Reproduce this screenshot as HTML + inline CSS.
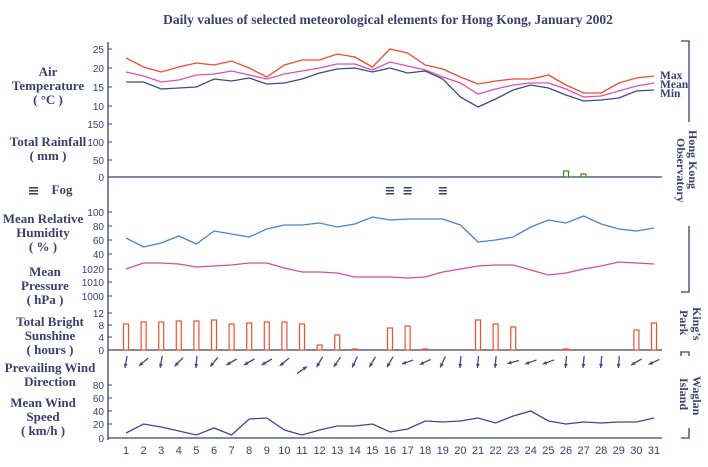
<!DOCTYPE html>
<html><head><meta charset="utf-8"><style>
html,body{margin:0;padding:0;background:#fff;}
svg{display:block;}
.l{font-family:"Liberation Serif",serif;font-weight:bold;font-size:13px;fill:#3a4070;text-anchor:middle;}
.t{font-family:"Liberation Sans",sans-serif;font-size:10px;fill:#3a4070;text-anchor:end;}
.d{font-family:"Liberation Sans",sans-serif;font-size:11px;fill:#3a4070;text-anchor:middle;}
.r{font-family:"Liberation Serif",serif;font-weight:bold;font-size:12px;fill:#3a4070;}
</style></head><body>
<svg id="s" width="708" height="467" viewBox="0 0 708 467" xmlns="http://www.w3.org/2000/svg">
<text x="388" y="24" class="l" style="font-size:13.5px">Daily values of selected meteorological elements for Hong Kong, January 2002</text>
<text class="l" x="48" y="76">Air</text>
<text class="l" x="48" y="90">Temperature</text>
<text class="l" x="48" y="104">( °C )</text>
<text class="l" x="48" y="146">Total Rainfall</text>
<text class="l" x="48" y="160">( mm )</text>
<g fill="#3a4070"><rect x="29" y="187" width="9" height="1.6"/><rect x="29" y="190" width="9" height="1.6"/><rect x="29" y="193" width="9" height="1.6"/></g>
<text class="l" x="62" y="194">Fog</text>
<text class="l" x="43" y="223">Mean Relative</text>
<text class="l" x="43" y="237">Humidity</text>
<text class="l" x="43" y="251">( % )</text>
<text class="l" x="45" y="276">Mean</text>
<text class="l" x="45" y="290">Pressure</text>
<text class="l" x="45" y="304">( hPa )</text>
<text class="l" x="50" y="326">Total Bright</text>
<text class="l" x="50" y="340">Sunshine</text>
<text class="l" x="50" y="354">( hours )</text>
<text class="l" x="50" y="372">Prevailing Wind</text>
<text class="l" x="50" y="386">Direction</text>
<text class="l" x="43" y="407">Mean Wind</text>
<text class="l" x="43" y="421">Speed</text>
<text class="l" x="43" y="435">( km/h )</text>
<g class="t">
<text x="104" y="53">25</text><text x="104" y="72">20</text><text x="104" y="91">15</text><text x="104" y="110">10</text>
<text x="104" y="128">150</text><text x="104" y="146">100</text><text x="104" y="164">50</text><text x="104" y="181">0</text>
<text x="104" y="216">100</text><text x="104" y="230">80</text><text x="104" y="244">60</text><text x="104" y="258">40</text>
<text x="104" y="273">1020</text><text x="104" y="286">1010</text><text x="104" y="300">1000</text>
<text x="104" y="317">12</text><text x="104" y="329">8</text><text x="104" y="341">4</text><text x="104" y="354">0</text>
<text x="104" y="389">80</text><text x="104" y="402">60</text><text x="104" y="415">40</text><text x="104" y="428">20</text><text x="104" y="442">0</text>
</g>
<g class="d">
<text x="126" y="454">1</text><text x="143.6" y="454">2</text><text x="161.2" y="454">3</text><text x="178.8" y="454">4</text><text x="196.4" y="454">5</text><text x="214" y="454">6</text><text x="231.6" y="454">7</text><text x="249.2" y="454">8</text><text x="266.8" y="454">9</text><text x="284.4" y="454">10</text><text x="302" y="454">11</text><text x="319.6" y="454">12</text><text x="337.2" y="454">13</text><text x="354.8" y="454">14</text><text x="372.4" y="454">15</text><text x="390" y="454">16</text><text x="407.6" y="454">17</text><text x="425.2" y="454">18</text><text x="442.8" y="454">19</text><text x="460.4" y="454">20</text><text x="478" y="454">21</text><text x="495.6" y="454">22</text><text x="513.2" y="454">23</text><text x="530.8" y="454">24</text><text x="548.4" y="454">25</text><text x="566" y="454">26</text><text x="583.6" y="454">27</text><text x="601.2" y="454">28</text><text x="618.8" y="454">29</text><text x="636.4" y="454">30</text><text x="654" y="454">31</text>
</g>
<text class="r" x="660" y="79" style="font-size:11.5px">Max</text>
<text class="r" x="660" y="88" style="font-size:11.5px">Mean</text>
<text class="r" x="660" y="97" style="font-size:11.5px">Min</text>
<text class="r" x="0" y="0" transform="translate(689,130) rotate(90)" text-anchor="start">Hong Kong</text>
<text class="r" x="0" y="0" transform="translate(677,138) rotate(90)" text-anchor="start">Observatory</text>
<text class="r" x="0" y="0" transform="translate(693,307) rotate(90)">King’s</text>
<text class="r" x="0" y="0" transform="translate(680,310) rotate(90)">Park</text>
<text class="r" x="0" y="0" transform="translate(693,376) rotate(90)">Waglan</text>
<text class="r" x="0" y="0" transform="translate(680,378) rotate(90)">Island</text>
<g fill="#3a4070">
<rect x="386" y="187" width="8" height="1.5"/><rect x="386" y="190" width="8" height="1.5"/><rect x="386" y="193" width="8" height="1.5"/>
<rect x="403.6" y="187" width="8" height="1.5"/><rect x="403.6" y="190" width="8" height="1.5"/><rect x="403.6" y="193" width="8" height="1.5"/>
<rect x="438.8" y="187" width="8" height="1.5"/><rect x="438.8" y="190" width="8" height="1.5"/><rect x="438.8" y="193" width="8" height="1.5"/>
</g>
<g stroke="#3a4070" stroke-width="1.3" fill="none">
<path d="M108 42V440"/>
<path d="M108 177H662"/>
<path d="M108 350H662"/>
<path d="M108 438H662"/>
<path d="M681 41H689V122"/>
<path d="M689 226V292H681"/>
<path d="M681 356V352H689V356"/>
<path d="M681 438H689V428"/>
<g stroke-width="1"><path d="M108 49h4M108 68h4M108 87h4M108 106h4M108 124h4M108 142h4M108 160h4M108 212h4M108 226h4M108 240h4M108 254h4M108 269h4M108 282h4M108 296h4M108 313h4M108 325h4M108 337h4M108 385h4M108 398h4M108 411h4M108 424h4"/></g>
</g>
<g id="dyn"></g>
</svg>
<script>
var X=function(i){return 126+17.6*i;};
var mx=[58,67,72,67,63,65,61,68,77,65,60,60,54,57,67,49,53,65,69,77,84,81,79,79,75,85,93,93,83,78,76];
var mn=[72,76,82,80,75,74,71,75,79,74,71,68,64,64,70,62,66,70,77,83,94,89,85,83,83,89,97,96,91,86,83];
var mi=[82,82,89,88,87,79,81,78,84,83,79,73,69,68,72,68,73,71,79,97,107,99,90,85,88,95,101,100,98,91,90];
var hu=[238,247,243,236,244,231,234,237,229,225,225,223,227,224,217,220,219,219,219,225,242,240,237,227,220,223,216,224,229,231,228];
var pr=[269,263,263,264,267,266,265,263,263,268,272,272,273,277,277,277,278,277,272,269,266,265,265,270,275,273,269,266,262,263,264];
var wi=[433,424,427,431,435,428,435,419,418,430,435,430,426,426,424,432,429,421,422,421,418,423,416,411,421,424,422,423,422,422,418];
var su=[324,322,322,321,321,320,324,323,322,322,324,345,335,349,350,328,326,349,0,0,320,324,327,0,0,349,0,0,0,330,323];
var ang=[100,140,100,135,95,130,150,150,150,140,-35,120,125,115,120,120,160,155,115,95,95,95,165,160,160,95,95,95,95,150,155];
var h='';
function pl(a,c){var p=a.map(function(v,i){return X(i).toFixed(1)+','+v;}).join(' ');
h+='<polyline points="'+p+'" fill="none" stroke="'+c+'" stroke-width="1.3"/>';}
pl(mx,'#f04a30');pl(mn,'#e050b0');pl(mi,'#3a4a90');pl(hu,'#4a80d8');pl(pr,'#d84aa8');pl(wi,'#3a4a90');
su.forEach(function(v,i){if(!v)return;var x=X(i)-2.5;h+='<rect x="'+x+'" y="'+v+'" width="5" height="'+(350-v)+'" fill="#fff" stroke="#f05030" stroke-width="1.2"/>';});
h+='<rect x="563.5" y="171" width="5" height="6" fill="none" stroke="#3a8a20" stroke-width="1.2"/>';
h+='<rect x="581" y="174" width="5" height="3" fill="none" stroke="#3a8a20" stroke-width="1.2"/>';
ang.forEach(function(a,i){var cx=X(i),cy=(a<0)?370:362;var r=a*Math.PI/180,dx=Math.cos(r)*6,dy=Math.sin(r)*6;
var x1=cx-dx,y1=cy-dy,x2=cx+dx,y2=cy+dy;
var l1=r+Math.PI-0.45,l2=r+Math.PI+0.45;
h+='<line x1="'+x1+'" y1="'+y1+'" x2="'+x2+'" y2="'+y2+'" stroke="#3a4a90" stroke-width="1.3"/>';
h+='<polygon points="'+x2+','+y2+' '+(x2+Math.cos(l1)*4.5)+','+(y2+Math.sin(l1)*4.5)+' '+(x2+Math.cos(l2)*4.5)+','+(y2+Math.sin(l2)*4.5)+'" fill="#3a4a90"/>';});
document.getElementById('dyn').innerHTML=h;
</script>
</body></html>
